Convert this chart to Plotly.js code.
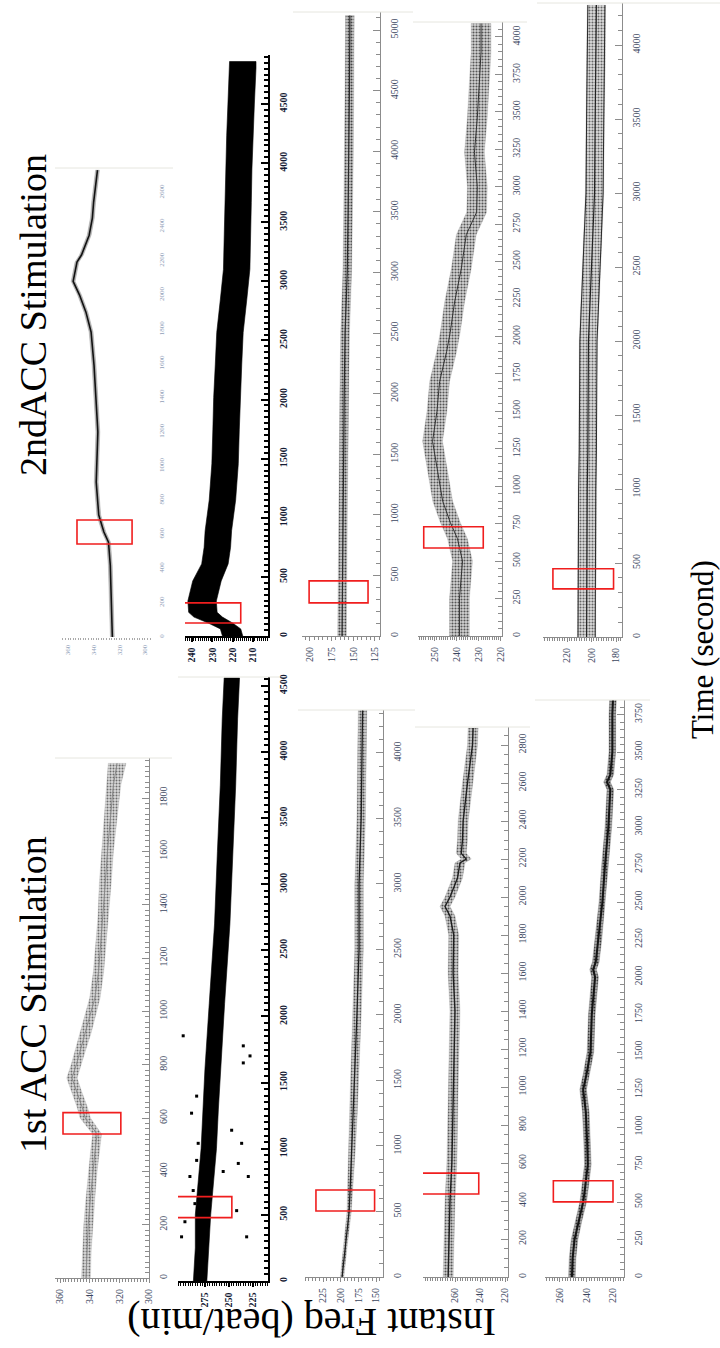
<!DOCTYPE html>
<html><head><meta charset="utf-8">
<script src="https://cdn.plot.ly/plotly-3.0.1.min.js"></script>
<style>html,body{margin:0;padding:0;background:#fff}</style>
</head><body><div id="chart" style="width:720px;height:1348px"></div>
<script>
// ================= DATA =================
// ---- 1st ACC Stimulation ----
const a1_time = [0,100,200,300,400,470,540,570,600,640,700,750,800,850,920,975,1050,1150,1250,1350,1480,1600,1725,1850,1930];
const a1_freq = [342.5,342,341,339.5,338,336.5,335,339,343,345,349,352,349,346.5,342.5,340,336.5,334,332.5,331,329.5,328,326,324,321.5];
const a1_spread = [3,3,3,3,3,3,3,3.5,3.5,3.5,3.5,3.5,3.5,3.5,3.5,3.5,3.5,3.5,3.5,3.5,4,4,4.5,5,6];
const a1_freqTicks = [360,340,320,300];
const a1_timeTicks = [0,200,400,600,800,1000,1200,1400,1600,1800];
const a1_box = [358,319,540,620];

const a2_time = [0,250,500,750,1000,1300,1600,2100,2700,3250,3750,4250,4560];
const a2_freq = [280,278,277,274,271,269,267,262.5,257,254,251,249,247];
const a2_spread = [7,7,8,8,8,8,8,8,8,8,8,8,8];
const a2_outTime = [334,448,790,684,585,912,1041,1269,1398,1854,1649,1702,889,1041,790,532,828,1140,334,1778];
const a2_outFreq = [299.3,295.8,290.6,287.2,285.4,283.6,282,288.9,283.6,297.6,235.1,228.1,240.3,236.8,229.9,242,256,247.2,231.6,235.1];
const a2_freqTicks = [275,250,225];
const a2_timeTicks = [0,500,1000,1500,2000,2500,3000,3500,4000,4500];
const a2_box = [308,247,479,638];

const a3_time = [0,250,500,750,1000,1250,1500,1750,2000,2500,3000,3500,4000,4330];
const a3_freq = [198,193,188,186,184,182,180,178.5,177,174,174,171,170,169];
const a3_spread = [2.5,2.5,3,4,5,5.5,6,6,6,6,6,6,6,6];
const a3_freqTicks = [225,200,175,150];
const a3_timeTicks = [0,500,1000,1500,2000,2500,3000,3500,4000];
const a3_box = [235,152,504,664];

const a4_time = [0,200,400,600,800,1000,1200,1400,1600,1800,1900,1950,2000,2100,2180,2200,2230,2300,2400,2500,2600,2700,2800,2890];
const a4_freq = [265.5,265,264,262.5,262,261.5,261,260,261.5,261,264,268,264,258,256,251,255,254,253.5,252,250,248,246,245.5];
const a4_spread = 4;
const a4_freqTicks = [260,240,220];
const a4_timeTicks = [0,200,400,600,800,1000,1200,1400,1600,1800,2000,2200,2400,2600,2800];
const a4_box = [288,241,437,547];

const a5_time = [0,125,250,375,500,600,750,900,1000,1100,1250,1350,1500,1750,2000,2050,2100,2250,2500,2750,3000,3250,3300,3350,3500,3750,3850];
const a5_freq = [251,250.5,249,246,242.5,241,239,239.5,240,240.5,242.5,240,237,236,233.5,235,233,231,228,226,223.5,222,224.5,222,220.5,220.5,220];
const a5_spread = 2.5;
const a5_freqTicks = [260,240,220];
const a5_timeTicks = [0,250,500,750,1000,1250,1500,1750,2000,2250,2500,2750,3000,3250,3500,3750];
const a5_box = [265,220,501,642];

// ---- 2nd ACC Stimulation ----
const b1_time = [0,220,420,555,614,713,906,1199,1590,1784,1900,2000,2080,2193,2234,2350,2450,2544,2650,2730];
const b1_freq = [325.4,326,327,328.4,332,336,338,336.7,339.7,342,346,351,356,353,349.5,343.5,341,340,338.5,337];
const b1_spread = 1.5;
const b1_freqTicks = [360,340,320,300];
const b1_timeTicks = [0,200,400,600,800,1000,1200,1400,1600,1800,2000,2200,2400,2600];
const b1_box = [353,310,544,684];

const b2_time = [0,60,110,160,200,296,466,610,750,890,1150,1457,1750,2017,2300,2568,2850,3102,3400,3669,3950,4237,4500,4805,4860];
const b2_freq = [220,221,226,232,234.6,235,232.6,228.7,227.5,227,225,223.7,223.2,222.8,222,221.3,219.5,218,217.6,217.3,217,216.4,215.8,215,215];
const b2_spread = [5,5,6,7,7,7,7,6.5,6.5,6.5,6.5,6.5,6.5,6.5,6.5,6.5,6.5,6.5,6.5,6.5,6.5,6.5,6.5,6.5,6.5];
const b2_freqTicks = [240,230,220,210];
const b2_timeTicks = [0,500,1000,1500,2000,2500,3000,3500,4000,4500];
const b2_box = [245,216,110,280];

const b3_time = [0,500,1000,1500,2000,2500,3000,3500,4000,4500,5000,5120];
const b3_freq = [163,162.5,162,161,160.5,159.5,157,156,155,154.5,154,154];
const b3_spread = 5;
const b3_freqTicks = [200,175,150,125];
const b3_timeTicks = [0,500,1000,1500,2000,2500,3000,3500,4000,4500,5000];
const b3_box = [201,133,273,455];

const b4_time = [0,250,500,650,760,900,1100,1300,1500,1700,1900,2027,2230,2450,2680,2830,3000,3230,3460,3680,3900,4090];
const b4_freq = [238.8,238.8,237.4,239.7,243,246.4,248.7,251,249,247.8,244.6,243,241,238,235.7,231,230.7,232,230.7,229.8,229,229];
const b4_spread = 4.5;
const b4_freqTicks = [250,240,230,220];
const b4_timeTicks = [0,250,500,750,1000,1250,1500,1750,2000,2250,2500,2750,3000,3250,3500,3750,4000];
const b4_box = [255,228,588,730];

const b5_time = [0,250,500,750,1000,1250,1500,1750,2000,2500,3000,3500,4000,4270];
const b5_freq = [204,204,203.5,203.5,203.5,203,203,203,202.5,200,197.5,197,196,196];
const b5_leftLine = [211,211,210.5,210.5,210.5,210,210,210,209.5,207,204.5,204,203,203];
const b5_rightLine = [197,197,196.5,196.5,196.5,196,196,196,195.5,193,190.5,190,189,189];
const b5_spread = 7.5;
const b5_freqTicks = [220,200,180];
const b5_timeTicks = [0,500,1000,1500,2000,2500,3000,3500,4000];
const b5_box = [231.5,182,325,461];

// ================= LAYOUT / STYLE =================
const W = 720, H = 1348;
const SERIF = 'Liberation Serif, Times New Roman, serif';

const styles = {
  grey:  {line:'#8c8c8c', lw:1, tick:'#8c8c8c', tw:1, font:{family:SERIF, size:10, color:'#3b4660'}},
  black: {line:'#000', lw:1.5, tick:'#000', tw:2, font:{family:SERIF, size:10, color:'#141a33', weight:'bold'}},
  faint: {line:'rgba(0,0,0,0)', lw:0, tick:'#aaa', tw:1, font:{family:SERIF, size:7, color:'#8fa0b8'}}
};

const panels = [
  {time:a1_time, freq:a1_freq, spread:a1_spread, fT:a1_freqTicks, tT:a1_timeTicks, box:a1_box,
   g:{x0:55,x1:149,yB:1278,yT:758,fL:363.4,fR:300,tTop:1950}, st:'grey', tMinor:20, fMinor:2,
   band:{fill:'rgba(185,185,185,0.55)', fg:'#6e6e6e', size:3, sol:0.35}, core:{color:'#8a8a8a', width:1}},
  {time:a2_time, freq:a2_freq, spread:a2_spread, fT:a2_freqTicks, tT:a2_timeTicks, box:a2_box,
   g:{x0:178,x1:268,yB:1281,yT:677,fL:303,fR:209.4,tTop:4567}, st:'black', tMinor:50, fMinor:2.5,
   band:{fill:'#000'}, core:null, outT:a2_outTime, outF:a2_outFreq},
  {time:a3_time, freq:a3_freq, spread:a3_spread, fT:a3_freqTicks, tT:a3_timeTicks, box:a3_box,
   g:{x0:305,x1:383,yB:1277,yT:710,fL:250.5,fR:140.1,tTop:4328}, st:'grey', tMinor:100, fMinor:5,
   band:{fill:'rgba(170,170,170,0.55)', fg:'#555', size:3, sol:0.4}, core:{color:'#1e1e1e', width:1.3}},
  {time:a4_time, freq:a4_freq, spread:a4_spread, fT:a4_freqTicks, tT:a4_timeTicks, box:a4_box,
   g:{x0:423,x1:508,yB:1277,yT:727,fL:285.6,fR:217.6,tTop:2895}, st:'grey', tMinor:50, fMinor:2,
   band:{fill:'rgba(170,170,170,0.55)', fg:'#555', size:3, sol:0.4}, core:{color:'#1e1e1e', width:1.4}},
  {time:a5_time, freq:a5_freq, spread:a5_spread, fT:a5_freqTicks, tT:a5_timeTicks, box:a5_box,
   g:{x0:545,x1:624,yB:1277,yT:700,fL:271.3,fR:211.7,tTop:3847}, st:'grey', tMinor:50, fMinor:2,
   band:{fill:'rgba(120,120,120,0.6)', fg:'#333', size:3, sol:0.4}, core:{color:'#141414', width:2}},
  {time:b1_time, freq:b1_freq, spread:b1_spread, fT:b1_freqTicks, tT:b1_timeTicks, box:b1_box,
   g:{x0:62,x1:150,yB:637,yT:168,fL:364.7,fR:296,tTop:2743}, st:'faint', tMinor:0, fMinor:2,
   band:{fill:'rgba(150,150,150,0.7)'}, core:{color:'#111', width:1.6}},
  {time:b2_time, freq:b2_freq, spread:b2_spread, fT:b2_freqTicks, tT:b2_timeTicks, box:b2_box,
   g:{x0:185,x1:268,yB:636,yT:55,fL:243.4,fR:202.6,tTop:4915}, st:'black', tMinor:50, fMinor:1,
   band:{fill:'#000'}, core:null},
  {time:b3_time, freq:b3_freq, spread:b3_spread, fT:b3_freqTicks, tT:b3_timeTicks, box:b3_box,
   g:{x0:302,x1:380,yB:636,yT:12,fL:209.2,fR:119.2,tTop:5149}, st:'grey', tMinor:100, fMinor:5,
   band:{fill:'rgba(160,160,160,0.55)', fg:'#444', size:3, sol:0.4}, core:{color:'#2a2a2a', width:1.2}},
  {time:b4_time, freq:b4_freq, spread:b4_spread, fT:b4_freqTicks, tT:b4_timeTicks, box:b4_box,
   g:{x0:418,x1:502,yB:636,yT:22,fL:257.6,fR:219.5,tTop:4100}, st:'grey', tMinor:50, fMinor:1,
   band:{fill:'rgba(175,175,175,0.55)', fg:'#555', size:3, sol:0.4}, core:{color:'#333', width:1}},
  {time:b5_time, freq:b5_freq, spread:b5_spread, fT:b5_freqTicks, tT:b5_timeTicks, box:b5_box,
   g:{x0:543,x1:622,yB:637,yT:3,fL:239.6,fR:175.1,tTop:4284}, st:'grey', tMinor:100, fMinor:2,
   band:{fill:'rgba(190,190,190,0.55)', fg:'#666', size:3, sol:0.4}, core:{color:'#222', width:1.2},
   extra:[b5_leftLine, b5_rightLine]}
];

const frameLines = [
  [55,172,758],[178,280,677],[298,415,710],[415,530,727],[535,650,700],
  [55,173,168],[293,413,12],[413,527,22],[537,720,3]
];

function asArr(v, n){ return Array.isArray(v) ? v : Array.from({length:n}, () => v); }

const traces = [];
const layout = {
  width:W, height:H, margin:{l:0,r:0,t:0,b:0}, paper_bgcolor:'#fff', plot_bgcolor:'rgba(0,0,0,0)',
  showlegend:false, shapes:[], annotations:[]
};

panels.forEach((p, i) => {
  const sfx = i === 0 ? '' : String(i+1);
  const xa = 'x'+sfx, ya = 'y'+sfx;
  const s = styles[p.st];
  const sp = asArr(p.spread, p.time.length);
  const bx = [], by = [];
  for (let k=0;k<p.time.length;k++){ bx.push(p.freq[k]+sp[k]); by.push(p.time[k]); }
  for (let k=p.time.length-1;k>=0;k--){ bx.push(p.freq[k]-sp[k]); by.push(p.time[k]); }
  const bt = {type:'scatter', mode:'lines', x:bx, y:by, xaxis:xa, yaxis:ya, fill:'toself',
    fillcolor:p.band.fill, line:{width:0.6, color:p.band.fill}, hoverinfo:'skip'};
  if (p.band.fg) bt.fillpattern = {shape:'.', fgcolor:p.band.fg, bgcolor:p.band.fill, size:p.band.size, solidity:p.band.sol};
  traces.push(bt);
  if (p.extra) p.extra.forEach(line => traces.push({type:'scatter', mode:'lines', x:line, y:p.time, xaxis:xa, yaxis:ya,
    line:{color:'#2a2a2a', width:1}, hoverinfo:'skip'}));
  if (p.core) traces.push({type:'scatter', mode:'lines', x:p.freq, y:p.time, xaxis:xa, yaxis:ya,
    line:{color:p.core.color, width:p.core.width}, hoverinfo:'skip'});
  if (p.outT) traces.push({type:'scatter', mode:'markers', x:p.outF, y:p.outT, xaxis:xa, yaxis:ya,
    marker:{symbol:'square', size:3, color:'#000'}, hoverinfo:'skip'});

  const g = p.g;
  const faint = p.st === 'faint';
  layout['xaxis'+sfx] = {
    domain:[g.x0/W, g.x1/W], range:[g.fL, g.fR], anchor:ya, fixedrange:true,
    tickmode:'array', tickvals:p.fT, ticktext:p.fT.map(String), tickangle:-90,
    ticks:'outside', ticklen:faint?2:4, tickwidth:s.tw, tickcolor:s.tick,
    showline:!faint, linecolor:s.line, linewidth:s.lw, showgrid:false, zeroline:false,
    tickfont:s.font, ticklabelstandoff:2,
    minor:{tickmode:'linear', tick0:0, dtick:p.fMinor, ticks:'outside', ticklen:faint?2:3, tickwidth:1, tickcolor:s.tick, showgrid:false}
  };
  const yax = {
    domain:[(H-g.yB)/H, (H-g.yT)/H], range:[0, g.tTop], anchor:xa, side:'right', fixedrange:true,
    tickmode:'array', tickvals:p.tT, ticktext:p.tT.map(String), tickangle:-90,
    ticks:faint?'':'inside', ticklen:7, tickwidth:s.tw, tickcolor:s.tick,
    showline:!faint, linecolor:s.line, linewidth:s.lw, showgrid:false, zeroline:false,
    tickfont:s.font, ticklabelstandoff:faint?6:5
  };
  if (p.tMinor) yax.minor = {tickmode:'linear', tick0:0, dtick:p.tMinor, ticks:'inside', ticklen:4, tickwidth:s.tw, tickcolor:s.tick, showgrid:false};
  layout['yaxis'+sfx] = yax;

  layout.shapes.push({type:'rect', xref:xa, yref:ya, x0:p.box[0], x1:p.box[1], y0:p.box[2], y1:p.box[3],
    line:{color:'#f01e1e', width:1.6}, fillcolor:'rgba(0,0,0,0)'});
});

frameLines.forEach(f => layout.shapes.push({type:'line', xref:'paper', yref:'paper',
  x0:f[0]/W, x1:f[1]/W, y0:1-f[2]/H, y1:1-f[2]/H, line:{color:'#e6e6df', width:1}}));

const TF = {family:SERIF, size:38, color:'#000'};
layout.annotations.push(
  {text:'1st ACC Stimulation', xref:'paper', yref:'paper', x:33/W, y:1-995/H, textangle:-90, showarrow:false, font:TF, xanchor:'center', yanchor:'middle'},
  {text:'2ndACC Stimulation', xref:'paper', yref:'paper', x:33/W, y:1-315/H, textangle:-90, showarrow:false, font:TF, xanchor:'center', yanchor:'middle'},
  {text:'Instant Freq (beat/min)', xref:'paper', yref:'paper', x:312/W, y:1-1323/H, textangle:180, showarrow:false, font:{family:SERIF, size:40, color:'#000'}, xanchor:'center', yanchor:'middle'},
  {text:'Time (second)', xref:'paper', yref:'paper', x:702/W, y:1-650/H, textangle:-90, showarrow:false, font:{family:SERIF, size:31, color:'#000'}, xanchor:'center', yanchor:'middle'}
);

Plotly.newPlot('chart', traces, layout, {staticPlot:true, displayModeBar:false});
</script>
</body></html>
